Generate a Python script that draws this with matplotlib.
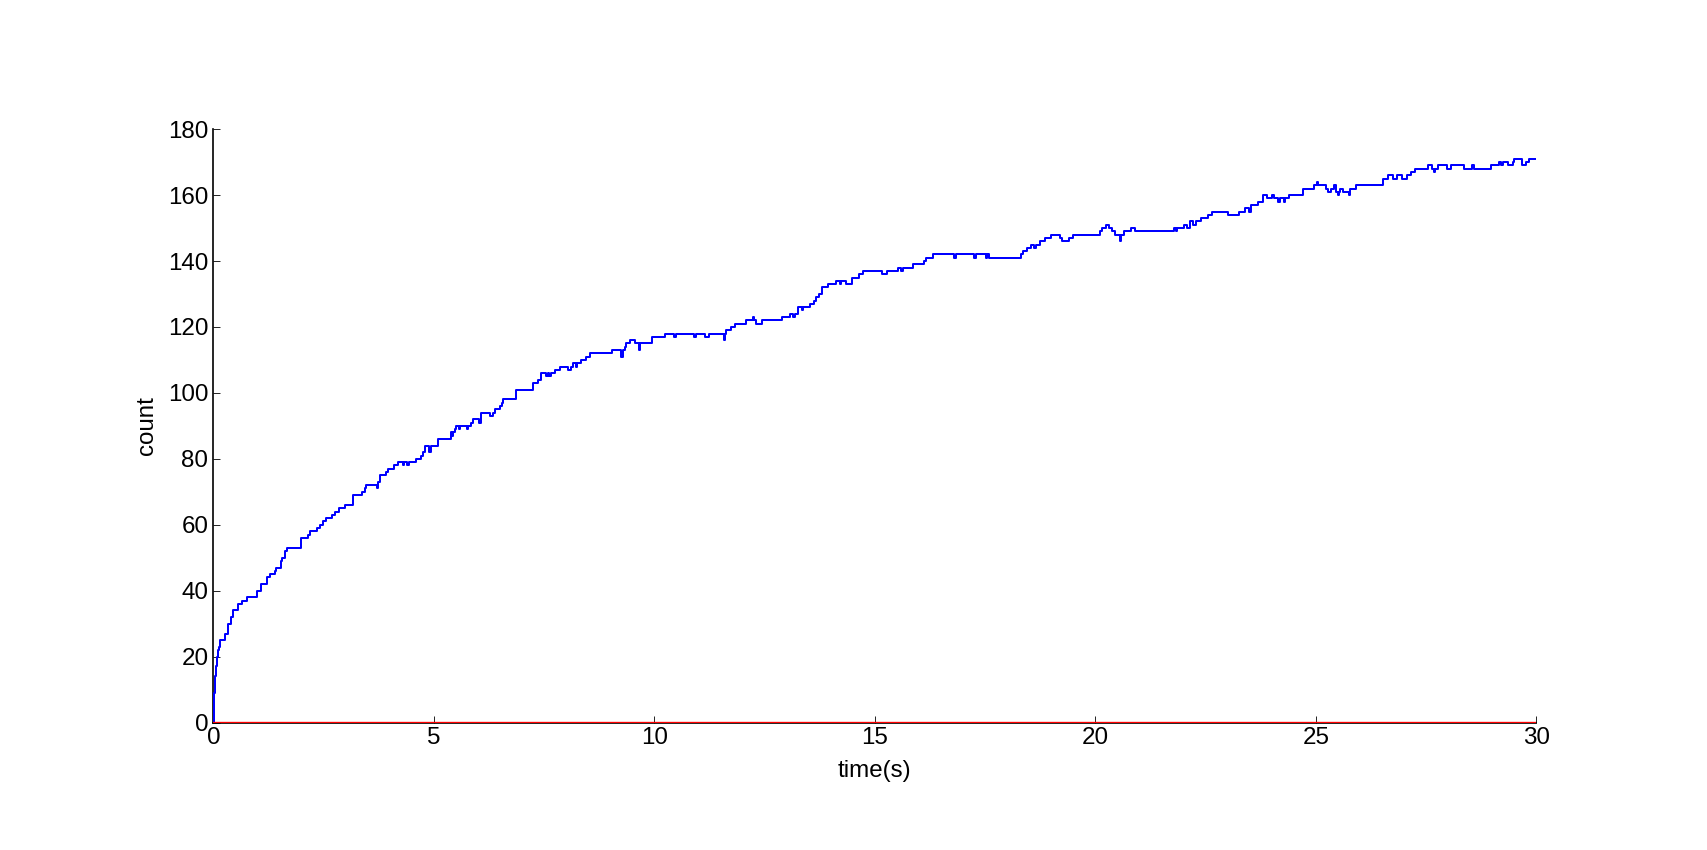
import matplotlib
matplotlib.use("Agg")
import matplotlib.pyplot as plt

# Step times (s) and counts (steps-post) for the blue series
times = [0.00, 0.01, 0.02, 0.03, 0.04, 0.06, 0.08, 0.10, 0.12, 0.15, 0.27, 0.33, 0.40, 0.45,
         0.55, 0.65, 0.76, 0.98, 1.09, 1.22, 1.29, 1.40, 1.42, 1.53, 1.56, 1.62, 1.68, 1.98,
         2.14, 2.18, 2.34, 2.42, 2.48, 2.55, 2.69, 2.76, 2.84, 2.99, 3.16, 3.38, 3.43, 3.47,
         3.70, 3.73, 3.78, 3.92, 3.97, 4.10, 4.18, 4.30, 4.33, 4.40, 4.43, 4.60, 4.70, 4.76,
         4.80, 4.90, 4.93, 5.10, 5.38, 5.40, 5.43, 5.47, 5.51, 5.56, 5.59, 5.75, 5.78, 5.85,
         5.89, 6.03, 6.06, 6.08, 6.27, 6.35, 6.38, 6.49, 6.55, 6.57, 6.87, 7.25, 7.36, 7.42,
         7.44, 7.55, 7.58, 7.62, 7.65, 7.75, 7.85, 8.04, 8.12, 8.16, 8.22, 8.25, 8.33, 8.45,
         8.55, 9.04, 9.25, 9.28, 9.33, 9.36, 9.44, 9.55, 9.65, 9.68, 9.95, 10.25, 10.45, 10.48,
         10.91, 10.94, 11.14, 11.25, 11.59, 11.61, 11.63, 11.74, 11.82, 12.08, 12.23, 12.26,
         12.31, 12.45, 12.90, 13.07, 13.15, 13.18, 13.25, 13.35, 13.38, 13.52, 13.63, 13.67,
         13.74, 13.80, 13.93, 14.11, 14.20, 14.23, 14.35, 14.49, 14.65, 14.73, 15.16, 15.27,
         15.52, 15.60, 15.63, 15.86, 16.12, 16.16, 16.31, 16.80, 16.83, 17.26, 17.29, 17.52,
         17.55, 17.58, 18.31, 18.36, 18.45, 18.55, 18.62, 18.65, 18.75, 18.85, 19.00, 19.20,
         19.25, 19.40, 19.50, 20.10, 20.15, 20.25, 20.30, 20.38, 20.45, 20.55, 20.58, 20.65,
         20.80, 20.90, 21.78, 21.82, 21.86, 22.00, 22.08, 22.15, 22.22, 22.28, 22.40, 22.55,
         22.65, 23.00, 23.25, 23.40, 23.48, 23.52, 23.70, 23.80, 23.90, 24.00, 24.05, 24.15,
         24.18, 24.28, 24.31, 24.40, 24.71, 24.97, 25.02, 25.06, 25.23, 25.27, 25.35, 25.42,
         25.45, 25.50, 25.52, 25.54, 25.62, 25.75, 25.78, 25.90, 26.52, 26.63, 26.75, 26.84,
         26.95, 27.06, 27.16, 27.24, 27.54, 27.64, 27.68, 27.71, 27.76, 27.98, 28.06, 28.36,
         28.55, 28.58, 28.98, 29.15, 29.19, 29.24, 29.35, 29.48, 29.50, 29.67, 29.77, 29.84,
         30.00]
counts = [0, 5, 9, 12, 14, 17, 20, 22, 23, 25, 27, 30, 32, 34,
          36, 37, 38, 40, 42, 44, 45, 46, 47, 49, 50, 52, 53, 56,
          57, 58, 59, 60, 61, 62, 63, 64, 65, 66, 69, 70, 71, 72,
          71, 73, 75, 76, 77, 78, 79, 78, 79, 78, 79, 80, 81, 82,
          84, 82, 84, 86, 88, 87, 88, 89, 90, 89, 90, 89, 90, 91,
          92, 91, 92, 94, 93, 94, 95, 96, 97, 98, 101, 103, 104, 105,
          106, 105, 106, 105, 106, 107, 108, 107, 108, 109, 108, 109, 110, 111,
          112, 113, 111, 113, 114, 115, 116, 115, 113, 115, 117, 118, 117, 118,
          117, 118, 117, 118, 116, 118, 119, 120, 121, 122, 123, 122,
          121, 122, 123, 124, 123, 124, 126, 125, 126, 127, 128, 129,
          130, 132, 133, 134, 133, 134, 133, 135, 136, 137, 136, 137,
          138, 137, 138, 139, 140, 141, 142, 141, 142, 141, 142, 141,
          142, 141, 142, 143, 144, 145, 144, 145, 146, 147, 148, 147,
          146, 147, 148, 149, 150, 151, 150, 149, 148, 146, 148, 149,
          150, 149, 150, 149, 150, 151, 150, 152, 151, 152, 153, 154,
          155, 154, 155, 156, 155, 157, 158, 160, 159, 160, 159, 158,
          159, 158, 159, 160, 162, 163, 164, 163, 162, 161, 162, 163,
          161, 160, 161, 162, 161, 160, 162, 163, 165, 166, 165, 166,
          165, 166, 167, 168, 169, 168, 167, 168, 169, 168, 169, 168,
          169, 168, 169, 170, 169, 170, 169, 170, 171, 169, 170, 171,
          171]

# Second (red) series: stays at zero over the whole run
red_times = [0.0, 30.0]
red_counts = [0, 0]

x_ticks = [0, 5, 10, 15, 20, 25, 30]
y_ticks = [0, 20, 40, 60, 80, 100, 120, 140, 160, 180]

plt.rcParams['font.family'] = ['Liberation Sans', 'DejaVu Sans']
plt.rcParams['font.size'] = 14.5

fig = plt.figure(figsize=(1707 / 120, 850 / 120), dpi=120)
ax = fig.add_axes([0.125, 0.15, 0.775, 0.698])

ax.plot(times, counts, color='blue', lw=1.2, drawstyle='steps-post', zorder=3)
ax.plot(red_times, red_counts, color='red', lw=2.0, zorder=3)

ax.set_xlim(0, 30)
ax.set_ylim(0, 180)
ax.set_xticks(x_ticks)
ax.set_yticks(y_ticks)
ax.spines['top'].set_visible(False)
ax.spines['right'].set_visible(False)
for s in ('left', 'bottom'):
    ax.spines[s].set_linewidth(1.0)
    ax.spines[s].set_color('black')
ax.tick_params(direction='in', length=4, width=0.5, pad=3, labelsize=14.5,
               top=False, right=False)
ax.set_xlabel('time(s)', fontsize=14.5, labelpad=6)
ax.set_ylabel('count', fontsize=14.5, labelpad=6)

fig.savefig('out.png', dpi=120)
